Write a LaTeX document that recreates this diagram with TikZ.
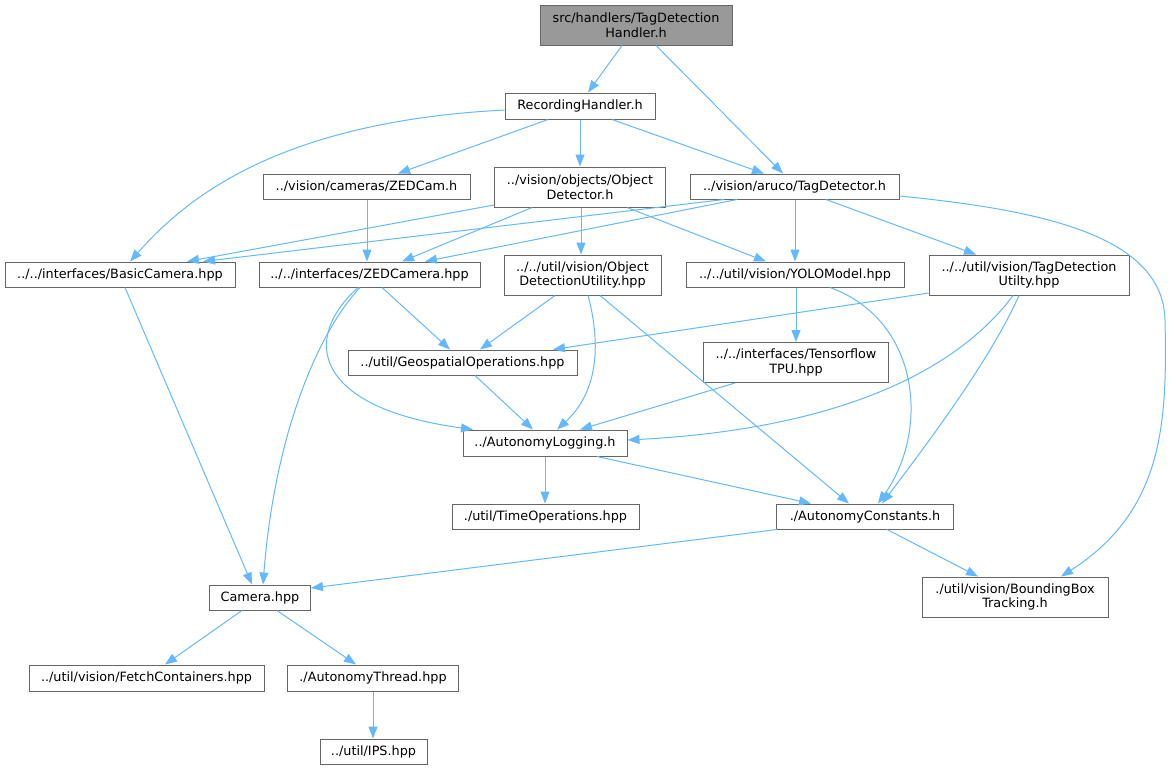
\documentclass[tikz,border=0pt]{standalone}
\usepackage{fontspec}
\setmainfont{DejaVu Sans}
\usetikzlibrary{arrows.meta}
\definecolor{edgeblue}{HTML}{63B8FF}
\definecolor{boxline}{HTML}{666666}
\definecolor{topfill}{HTML}{999999}
\tikzset{
  box/.style={draw=boxline, line width=0.75pt, fill=white, inner sep=0pt, align=center,
    font=\fontsize{9.6pt}{11pt}\selectfont, text=black, minimum height=18.75pt},
  tall/.style={minimum height=30pt},
  edge/.style={draw=edgeblue, line width=0.75pt, -{Triangle[length=9pt,width=6.75pt]}},
}
\begin{document}
\begin{tikzpicture}[x=0.75pt,y=-0.75pt]
\useasboundingbox (0,0) rectangle (1169,769);
% nodes
\node[box,tall,fill=topfill,minimum width=144pt] (top) at (636,25) {src/handlers/TagDetection\\Handler.h};
\node[box,minimum width=112.5pt,minimum height=19.5pt] (rec) at (580,106) {RecordingHandler.h};
\node[box,minimum width=155.25pt] (zedcam) at (366.5,186.5) {../vision/cameras/ZEDCam.h};
\node[box,tall,minimum width=128.25pt] (objdet) at (580,187) {../vision/objects/Object\\Detector.h};
\node[box,minimum width=156.75pt] (tagdet) at (794.5,186.5) {../vision/aruco/TagDetector.h};
\node[box,minimum width=172.5pt] (basic) at (120,274.5) {../../interfaces/BasicCamera.hpp};
\node[box,minimum width=165.75pt] (zedcamera) at (369.5,274.5) {../../interfaces/ZEDCamera.hpp};
\node[box,tall,minimum width=117.75pt] (odu) at (582.5,275) {../../util/vision/Object\\DetectionUtility.hpp};
\node[box,minimum width=163.5pt] (yolo) at (795,274.5) {../../util/vision/YOLOModel.hpp};
\node[box,tall,minimum width=150pt] (tdu) at (1029,275) {../../util/vision/TagDetection\\Utilty.hpp};
\node[box,minimum width=171.75pt] (geo) at (462.5,362.5) {../util/GeospatialOperations.hpp};
\node[box,tall,minimum width=138.75pt] (tpu) at (796,362.5) {../../interfaces/Tensorflow\\TPU.hpp};
\node[box,minimum width=123pt,minimum height=19.5pt] (log) at (545,443) {../AutonomyLogging.h};
\node[box,minimum width=140.25pt] (time) at (545.5,516.5) {./util/TimeOperations.hpp};
\node[box,minimum width=132.75pt] (const) at (865,516.5) {./AutonomyConstants.h};
\node[box,minimum width=75.75pt] (camera) at (260,597.5) {Camera.hpp};
\node[box,tall,minimum width=139.5pt] (bbt) at (1015,597) {./util/vision/BoundingBox\\Tracking.h};
\node[box,minimum width=176.25pt,minimum height=19.5pt] (fetch) at (146.5,678) {../util/vision/FetchContainers.hpp};
\node[box,minimum width=128.25pt,minimum height=19.5pt] (thread) at (373,678) {./AutonomyThread.hpp};
\node[box,minimum width=80.25pt] (ips) at (373.5,751.5) {../util/IPS.hpp};
% edges
\draw[edge] (top.south -| 622,0) -- (rec.north -| 588,0);
\draw[edge] (top.south -| 656,0) -- (tagdet.north -| 783,0);
\draw[edge] (rec.west |- 0,110) .. controls (272,122) and (182,203) .. (basic.north -| 130,0);
\draw[edge] (rec.south -| 548,0) -- (zedcam.north -| 398,0);
\draw[edge] (rec.south -| 580,0) -- (objdet.north -| 580,0);
\draw[edge] (rec.south -| 612,0) -- (tagdet.north -| 764,0);
\draw[edge] (zedcam.south -| 367,0) -- (zedcamera.north -| 367,0);
\draw[edge] (objdet.west |- 0,205) -- (basic.north -| 187,0);
\draw[edge] (objdet.south -| 532,0) -- (zedcamera.north -| 402,0);
\draw[edge] (objdet.south -| 581,0) -- (odu.north -| 581,0);
\draw[edge] (objdet.south -| 627,0) -- (yolo.north -| 766,0);
\draw[edge] (tagdet.south -| 724,0) -- (basic.north -| 203,0);
\draw[edge] (tagdet.south -| 737,0) -- (zedcamera.north -| 425,0);
\draw[edge] (tagdet.south -| 795,0) -- (yolo.north -| 795,0);
\draw[edge] (tagdet.south -| 826,0) -- (tdu.north -| 976,0);
\draw[edge] (tagdet.east |- 0,196) .. controls (1040,210) and (1163,235) .. (1165,320)
  .. controls (1167,420) and (1165,510) .. (bbt.north -| 1061,0);
\draw[edge] (basic.south -| 125,0) -- (camera.north -| 252,0);
\draw[edge] (zedcamera.south -| 382,0) -- (geo.north -| 450,0);
\draw[edge] (zedcamera.south -| 358,0) .. controls (300,340) and (315,408) .. (log.north -| 473,0);
\draw[edge] (zedcamera.south -| 360,0) .. controls (320,330) and (275,430) .. (camera.north -| 263,0);
\draw[edge] (odu.south -| 555,0) -- (geo.north -| 480,0);
\draw[edge] (odu.south -| 588,0) .. controls (600,340) and (600,390) .. (log.north -| 557,0);
\draw[edge] (odu.south -| 600,0) -- (const.north -| 849,0);
\draw[edge] (yolo.south -| 796,0) -- (tpu.north -| 796,0);
\draw[edge] (yolo.south -| 830,0) .. controls (920,320) and (930,430) .. (const.north -| 878,0);
\draw[edge] (tdu.west |- 0,293) -- (geo.north -| 553,0);
\draw[edge] (tdu.south -| 1013,0) .. controls (950,380) and (820,430) .. (log.east |- 0,440);
\draw[edge] (tdu.south -| 1019,0) .. controls (990,360) and (930,440) .. (const.north -| 882,0);
\draw[edge] (geo.south -| 475,0) -- (log.north -| 533,0);
\draw[edge] (tpu.south -| 735,0) -- (log.north -| 580,0);
\draw[edge] (log.south -| 545,0) -- (time.north -| 545,0);
\draw[edge] (log.south -| 597,0) -- (const.north -| 811,0);
\draw[edge] (const.south -| 777,0) -- (camera.east |- 0,588);
\draw[edge] (const.south -| 887,0) -- (bbt.north -| 978,0);
\draw[edge] (camera.south -| 242,0) -- (fetch.north -| 165,0);
\draw[edge] (camera.south -| 277,0) -- (thread.north -| 356,0);
\draw[edge] (thread.south -| 373,0) -- (ips.north -| 373,0);
\end{tikzpicture}
\end{document}
